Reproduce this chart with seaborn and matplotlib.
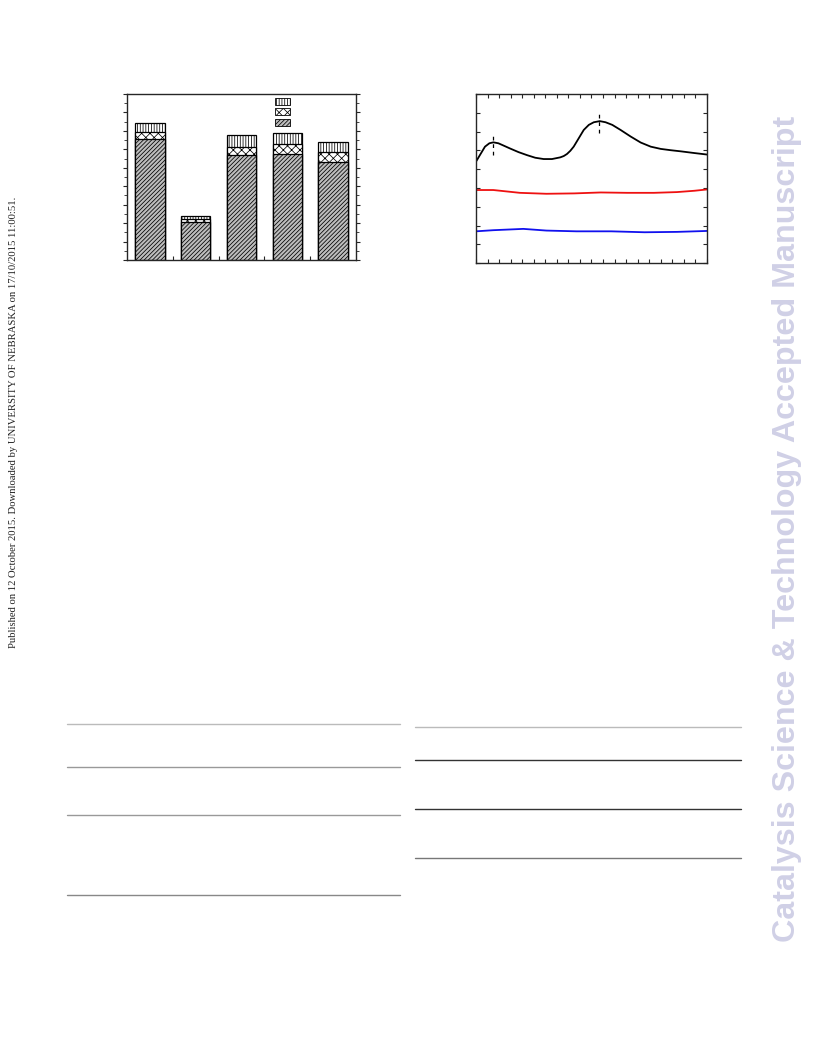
import numpy as np
import pandas as pd
import matplotlib
matplotlib.use("Agg")
import matplotlib.pyplot as plt
import matplotlib.patches as mpatches
from matplotlib.lines import Line2D
from matplotlib.ticker import MultipleLocator
import seaborn as sns

sns.set_style("ticks")
plt.rcParams["hatch.linewidth"] = 0.55
plt.rcParams["hatch.color"] = "black"

# ── data: stacked bars (left panel) ───────────────────────────────────────────
samples  = [0, 1, 2, 3, 4]
seg_base = [6.56, 2.05, 5.69, 5.74, 5.31]   # dense diagonal shading
seg_mid  = [0.40, 0.16, 0.43, 0.55, 0.52]   # cross hatch
seg_top  = [0.45, 0.18, 0.67, 0.61, 0.56]   # vertical stripes

# ── data: spectra (right panel) ───────────────────────────────────────────────
black_x = [0, 0.35, 0.78, 1.16, 1.51, 1.94, 2.38, 2.96, 3.68, 4.41, 5.13, 5.86,
           6.58, 7.30, 7.60, 7.88, 8.17, 8.46, 8.90, 9.33, 9.77, 10.20, 10.72, 11.22,
           11.80, 12.52, 13.39, 14.26, 15.13, 16.0, 16.87, 17.74, 18.90, 20.0]
black_y = [5.40, 5.76, 6.20, 6.38, 6.43, 6.38, 6.26, 6.10, 5.91, 5.75, 5.61, 5.54,
           5.54, 5.63, 5.70, 5.81, 5.98, 6.20, 6.65, 7.09, 7.36, 7.50, 7.56, 7.50,
           7.36, 7.09, 6.74, 6.42, 6.20, 6.08, 6.01, 5.95, 5.86, 5.78]
red_x = [0, 1.5, 3.8, 6.1, 8.5, 10.8, 13.1, 15.4, 17.4, 18.9, 20.0]
red_y = [3.89, 3.89, 3.74, 3.69, 3.71, 3.76, 3.74, 3.74, 3.78, 3.85, 3.92]
blue_x = [0, 1.5, 4.1, 6.1, 8.7, 11.7, 14.6, 17.4, 20.0]
blue_y = [1.69, 1.75, 1.82, 1.73, 1.69, 1.69, 1.64, 1.66, 1.71]
peak_x  = [1.51, 10.64]
peak_lo = [5.75, 6.92]
peak_hi = [6.92, 8.08]

fig = plt.figure(figsize=(8.16, 10.56), dpi=100)

# ── left panel ────────────────────────────────────────────────────────────────
ax1 = fig.add_axes([0.1556, 0.7538, 0.2806, 0.1572])
cum1 = np.array(seg_base)
cum2 = cum1 + np.array(seg_mid)
cum3 = cum2 + np.array(seg_top)
df = pd.DataFrame({"s": samples, "c1": cum1, "c2": cum2, "c3": cum3})

bar_kw = dict(edgecolor="black", linewidth=0.9, width=0.64, ax=ax1, saturation=1)
sns.barplot(data=df, x="s", y="c3", color="white", hatch="||||||", **bar_kw)
sns.barplot(data=df, x="s", y="c2", color="white", hatch="xxxx", **bar_kw)
sns.barplot(data=df, x="s", y="c1", color="#bdbdbd", hatch="////////", **bar_kw)

ax1.set_xlim(-0.5, 4.5)
ax1.set_ylim(0, 9)
ax1.set_xticks([0.5, 1.5, 2.5, 3.5])
ax1.yaxis.set_major_locator(MultipleLocator(1))
ax1.yaxis.set_minor_locator(MultipleLocator(0.5))
ax1.set_xticklabels([])
ax1.set_yticklabels([])
ax1.set_xlabel("")
ax1.set_ylabel("")
ax1.tick_params(axis="y", which="major", length=3, width=0.8, direction="out", right=True)
ax1.tick_params(axis="y", which="minor", length=2, width=0.6, direction="out", right=True)
ax1.tick_params(axis="x", length=3, width=0.8, direction="in")
for sp in ax1.spines.values():
    sp.set_linewidth(1.0)
    sp.set_visible(True)

handles = [mpatches.Patch(facecolor="white", edgecolor="black", hatch="||||||", lw=0.6),
           mpatches.Patch(facecolor="white", edgecolor="black", hatch="xxxx", lw=0.6),
           mpatches.Patch(facecolor="#bdbdbd", edgecolor="black", hatch="////////", lw=0.6)]
ax1.legend(handles, ["", "", ""], loc="upper left", bbox_to_anchor=(0.648, 0.985),
           frameon=False, fontsize=7, handlelength=1.55, handleheight=0.72,
           labelspacing=0.05, borderpad=0, borderaxespad=0, handletextpad=0)

# ── right panel ───────────────────────────────────────────────────────────────
ax2 = fig.add_axes([0.5833, 0.7509, 0.2831, 0.1600])
sns.lineplot(x=black_x, y=black_y, color="black", lw=1.3, ax=ax2, sort=False)
sns.lineplot(x=red_x, y=red_y, color="#ee1111", lw=1.3, ax=ax2, sort=False)
sns.lineplot(x=blue_x, y=blue_y, color="#1111ee", lw=1.3, ax=ax2, sort=False)
ax2.vlines(peak_x, peak_lo, peak_hi, colors="black", linestyles=(0, (3, 3)), lw=0.9)

ax2.set_xlim(0, 20)
ax2.set_ylim(0, 9)
ax2.xaxis.set_major_locator(MultipleLocator(1))
ax2.yaxis.set_major_locator(MultipleLocator(1))
ax2.set_xticklabels([])
ax2.set_yticklabels([])
ax2.tick_params(length=3, width=0.8, direction="in", top=True, right=True)
for sp in ax2.spines.values():
    sp.set_linewidth(1.0)
    sp.set_visible(True)

# ── page furniture: table rules, margin text, watermark ──────────────────────
def hrule(x0, x1, y, color, lw):
    fig.add_artist(Line2D([x0 / 816, x1 / 816], [1 - y / 1056, 1 - y / 1056],
                          color=color, lw=lw))

hrule(67, 400, 724, "#bbbbbb", 1.0)
hrule(67, 400, 767, "#999999", 1.0)
hrule(67, 400, 815, "#999999", 1.0)
hrule(67, 400, 895, "#888888", 1.0)
hrule(415, 741, 727, "#bbbbbb", 1.0)
hrule(415, 741, 760, "#333333", 1.0)
hrule(415, 741, 809, "#333333", 1.0)
hrule(415, 741, 858, "#777777", 1.0)

fig.text(0.0165, 0.600,
         "Published on 12 October 2015. Downloaded by UNIVERSITY OF NEBRASKA on 17/10/2015 11:00:51.",
         rotation=90, ha="center", va="center", fontsize=7.7,
         family="Liberation Serif", color="#222222")
fig.text(0.9645, 0.499, "Catalysis Science & Technology Accepted Manuscript",
         rotation=90, ha="center", va="center", fontsize=23.2, fontweight="bold",
         family="Liberation Sans", color="#d0d0e6")

fig.savefig("out.png", dpi=100, facecolor="white")
